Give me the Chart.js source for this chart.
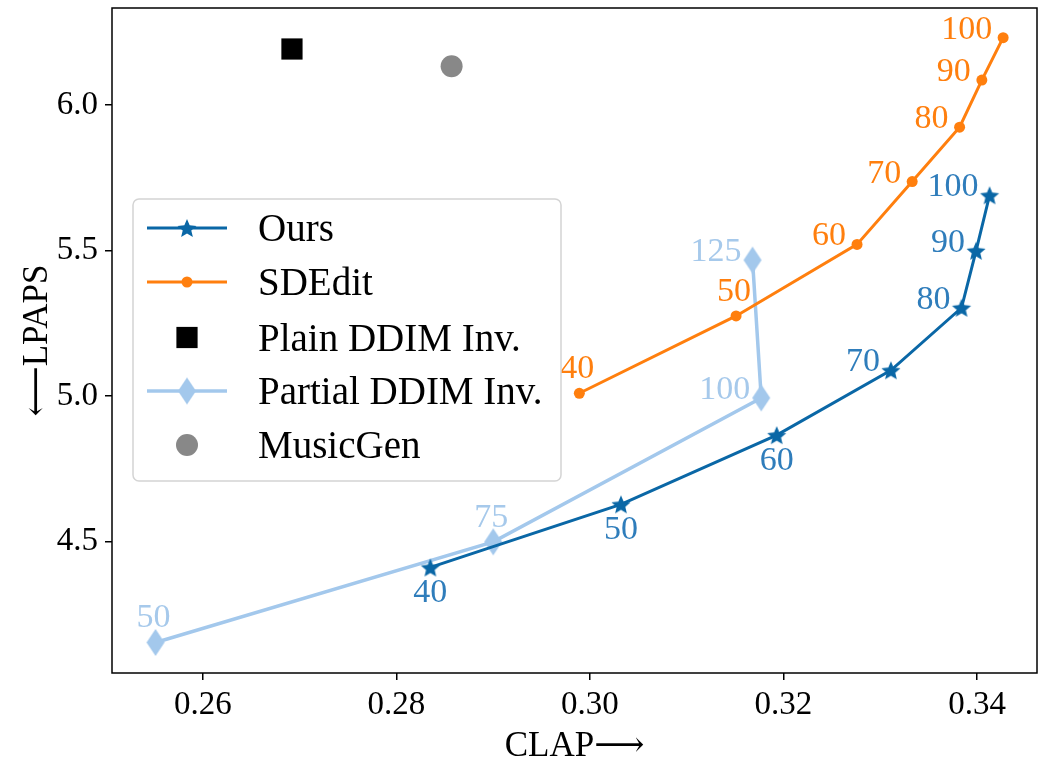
<!DOCTYPE html>
<html>
<head>
<meta charset="utf-8">
<script src="https://cdn.jsdelivr.net/npm/chart.js@4.4.1/dist/chart.umd.min.js"></script>
<style>
  body { margin: 0; background: #fff; }
  #wrap { width: 1039px; height: 758px; }
</style>
</head>
<body>
<div id="wrap"><canvas id="chart" width="1039" height="758"></canvas></div>
<script>
// values
const oursX = [0.2835, 0.3032, 0.3193, 0.3311, 0.3384, 0.3399, 0.3413];
const oursY = [4.410, 4.627, 4.865, 5.088, 5.303, 5.499, 5.690];
const oursSteps = ["40", "50", "60", "70", "80", "90", "100"];

const sdeditX = [0.2989, 0.3151, 0.3276, 0.3333, 0.3382, 0.3405, 0.3427];
const sdeditY = [5.009, 5.275, 5.521, 5.737, 5.924, 6.086, 6.232];
const sdeditSteps = ["40", "50", "60", "70", "80", "90", "100"];

const partialX = [0.2551, 0.2900, 0.3177, 0.3168];
const partialY = [4.152, 4.498, 4.993, 5.467];
const partialSteps = ["50", "75", "100", "125"];

const plainDdimX = [0.2692];
const plainDdimY = [6.193];
const musicGenX = [0.2857];
const musicGenY = [6.134];

const xTicks = [0.26, 0.28, 0.30, 0.32, 0.34];
const yTicks = [4.5, 5.0, 5.5, 6.0];

const FONT = '"Liberation Serif", "DejaVu Serif", serif';
const OURS = "#0a67a6", SDE = "#ff7f0e", PART = "#a3c8ec";

function toPoints(xs, ys) {
    return xs.map((x, i) => ({ x: x, y: ys[i] }));
}

// filled five point star like matplotlib '*'
function makeStar(r, color) {
    let c = document.createElement("canvas");
    c.width = c.height = Math.ceil(r * 2 + 2);
    let g = c.getContext("2d");
    let cx = c.width / 2, cy = c.height / 2 + 1;
    g.beginPath();
    for (let k = 0; k < 10; k++) {
        let rad = k % 2 === 0 ? r : r * 0.45;
        let a = -Math.PI / 2 + k * Math.PI / 5;
        g.lineTo(cx + rad * Math.cos(a), cy + rad * Math.sin(a));
    }
    g.closePath();
    g.fillStyle = color;
    g.fill();
    return c;
}

// thin diamond like matplotlib 'd'
function makeDiamond(w, h, color) {
    let c = document.createElement("canvas");
    c.width = w + 2; c.height = h + 2;
    let g = c.getContext("2d");
    let cx = c.width / 2, cy = c.height / 2;
    g.beginPath();
    g.moveTo(cx, cy - h / 2);
    g.lineTo(cx + w / 2, cy);
    g.lineTo(cx, cy + h / 2);
    g.lineTo(cx - w / 2, cy);
    g.closePath();
    g.fillStyle = color;
    g.fill();
    return c;
}

const starImg = makeStar(10, OURS);
const diamondImg = makeDiamond(18, 27, PART);

// step labels next to the points
const stepLabels = {
    id: "stepLabels",
    afterDatasetsDraw(chart) {
        const ctx = chart.ctx;
        chart.data.datasets.forEach((ds, i) => {
            if (!ds.steps) return;
            const meta = chart.getDatasetMeta(i);
            ctx.save();
            ctx.font = "34px " + FONT;
            ctx.fillStyle = ds.labelColor;
            ctx.textBaseline = "alphabetic";
            meta.data.forEach((pt, j) => {
                const place = ds.labelPlace[j];
                const txt = ds.steps[j];
                if (place === "below") {
                    ctx.textAlign = "center";
                    ctx.fillText(txt, pt.x, pt.y + 24 + 11);
                } else if (place === "above") {
                    ctx.textAlign = "center";
                    ctx.fillText(txt, pt.x - 2, pt.y - 26 + 11);
                } else {
                    ctx.textAlign = "right";
                    ctx.fillText(txt, pt.x - 11, pt.y - 10 + 11);
                }
            });
            ctx.restore();
        });
    }
};

// frame around the plot and the legend box
const frameAndLegend = {
    id: "frameAndLegend",
    afterDraw(chart) {
        const ctx = chart.ctx;
        const a = chart.chartArea;
        ctx.save();
        ctx.strokeStyle = "#000";
        ctx.lineWidth = 1.5;
        ctx.strokeRect(a.left, a.top, a.right - a.left, a.bottom - a.top);

        // legend
        const bx = 133, by = 199, bw = 428, bh = 282;
        ctx.beginPath();
        ctx.roundRect(bx, by, bw, bh, 6);
        ctx.fillStyle = "rgba(255,255,255,0.85)";
        ctx.fill();
        ctx.strokeStyle = "#d4d4d4";
        ctx.lineWidth = 1.5;
        ctx.stroke();

        const rows = [228, 282, 337.5, 391, 445];
        chart.data.datasets.forEach((ds, i) => {
            const y = rows[i];
            if (ds.showLine) {
                ctx.beginPath();
                ctx.moveTo(147, y);
                ctx.lineTo(227, y);
                ctx.strokeStyle = ds.borderColor;
                ctx.lineWidth = ds.borderWidth;
                ctx.stroke();
            }
            if (typeof ds.pointStyle === "string") {
                ctx.fillStyle = ds.pointBackgroundColor;
                ctx.beginPath();
                if (ds.pointStyle === "rect") {
                    const s = ds.legendRadius * Math.SQRT2;
                    ctx.rect(187 - s / 2, y - s / 2, s, s);
                } else {
                    ctx.arc(187, y, ds.legendRadius, 0, Math.PI * 2);
                }
                ctx.fill();
            } else {
                Chart.helpers.drawPoint(ctx, {
                    pointStyle: ds.pointStyle,
                    radius: ds.legendRadius,
                    rotation: 0,
                    borderWidth: 0
                }, 187, y);
            }
            ctx.fillStyle = "#000";
            ctx.font = "39px " + FONT;
            ctx.textAlign = "left";
            ctx.textBaseline = "alphabetic";
            ctx.fillText(ds.label, 258, y + 13);
        });
        ctx.restore();
    }
};

function noPad(s) {
    s.paddingLeft = 0;
    s.paddingRight = 0;
    s.paddingTop = 0;
    s.paddingBottom = 0;
}

new Chart(document.getElementById("chart").getContext("2d"), {
    type: "scatter",
    data: {
        datasets: [
            {
                label: "Ours",
                data: toPoints(oursX, oursY),
                showLine: true,
                borderColor: OURS,
                borderWidth: 3,
                pointStyle: starImg,
                pointBackgroundColor: OURS,
                legendRadius: 10,
                steps: oursSteps,
                labelColor: "#2f7dbb",
                labelPlace: ["below", "below", "below", "left", "left", "left", "left"]
            },
            {
                label: "SDEdit",
                data: toPoints(sdeditX, sdeditY),
                showLine: true,
                borderColor: SDE,
                borderWidth: 3,
                pointStyle: "circle",
                pointRadius: 5.5,
                pointBackgroundColor: SDE,
                pointBorderWidth: 0,
                legendRadius: 5.5,
                steps: sdeditSteps,
                labelColor: SDE,
                labelPlace: ["above", "above", "left", "left", "left", "left", "left"]
            },
            {
                label: "Plain DDIM Inv.",
                data: toPoints(plainDdimX, plainDdimY),
                showLine: false,
                pointStyle: "rect",
                pointRadius: 15,
                pointBackgroundColor: "#000",
                pointBorderWidth: 0,
                legendRadius: 15
            },
            {
                label: "Partial DDIM Inv.",
                data: toPoints(partialX, partialY),
                showLine: true,
                borderColor: PART,
                borderWidth: 3.5,
                pointStyle: diamondImg,
                pointBackgroundColor: PART,
                legendRadius: 10,
                steps: partialSteps,
                labelColor: "#a6c9eb",
                labelPlace: ["above", "above", "left", "left"]
            },
            {
                label: "MusicGen",
                data: toPoints(musicGenX, musicGenY),
                showLine: false,
                pointStyle: "circle",
                pointRadius: 11,
                pointBackgroundColor: "#888888",
                pointBorderWidth: 0,
                legendRadius: 11
            }
        ]
    },
    options: {
        responsive: false,
        animation: false,
        layout: { autoPadding: false, padding: { top: 8, right: 2, left: 0, bottom: 0 } },
        plugins: {
            legend: { display: false },
            tooltip: { enabled: false }
        },
        scales: {
            x: {
                type: "linear",
                min: 0.2506,
                max: 0.3462,
                afterBuildTicks: s => { s.ticks = xTicks.map(v => ({ value: v })); },
                afterFit: s => { s.height = 85; noPad(s); },
                grid: { drawOnChartArea: false, drawTicks: true, tickLength: 7, color: "#000", lineWidth: 1.5 },
                border: { display: false },
                ticks: {
                    color: "#000",
                    padding: 6,
                    font: { family: FONT, size: 33 },
                    callback: v => v.toFixed(2)
                },
                title: {
                    display: true,
                    text: "CLAP\u27F6",
                    color: "#000",
                    font: { family: FONT, size: 35 },
                    padding: { top: -13, bottom: -10 }
                }
            },
            y: {
                type: "linear",
                min: 4.047,
                max: 6.334,
                afterBuildTicks: s => { s.ticks = yTicks.map(v => ({ value: v })); },
                afterFit: s => { s.width = 112; noPad(s); },
                grid: { drawOnChartArea: false, drawTicks: true, tickLength: 7, color: "#000", lineWidth: 1.5 },
                border: { display: false },
                ticks: {
                    color: "#000",
                    padding: 7,
                    font: { family: FONT, size: 33 },
                    callback: v => v.toFixed(1)
                },
                title: {
                    display: true,
                    text: "\u27F5LPAPS",
                    color: "#000",
                    font: { family: FONT, size: 35 },
                    padding: { top: 17, bottom: 0 }
                }
            }
        }
    },
    plugins: [stepLabels, frameAndLegend]
});
</script>
</body>
</html>
